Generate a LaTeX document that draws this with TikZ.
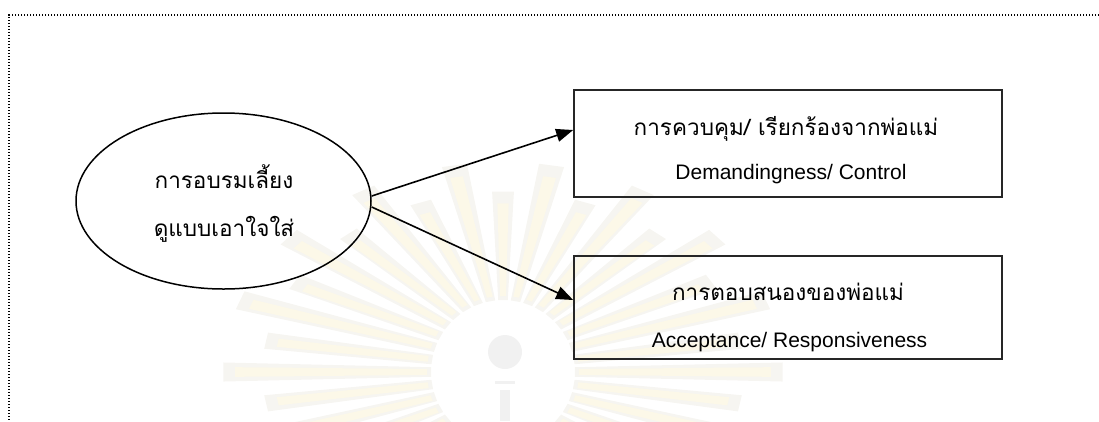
\documentclass[tikz,border=0pt]{standalone}
\usepackage{fontspec}
\setmainfont{Liberation Sans}
\newfontfamily\thaifont[Script=Thai]{Loma}
\usetikzlibrary{arrows.meta,shapes.geometric}

\definecolor{rayyellow}{RGB}{252,248,232}
\definecolor{rayshade}{RGB}{246,245,241}
\definecolor{emblemgrey}{RGB}{241,241,241}

\tikzset{
  frameline/.style={line width=1.2pt, dash pattern=on 1.2pt off 1.8pt},
  bubble/.style={ellipse, draw, line width=1.5pt, minimum width=295pt, minimum height=176pt, inner sep=0pt},
  factorbox/.style={rectangle, draw=black!85, line width=1.7pt, minimum width=428pt, minimum height=#1, inner sep=0pt},
  thaitext/.style={font=\thaifont\fontsize{22.5pt}{27pt}\selectfont, anchor=base, inner sep=0pt},
  engtext/.style={font=\fontsize{21pt}{25pt}\selectfont, anchor=base, inner sep=0pt},
  link/.style={line width=1.6pt, -{Triangle[length=17pt,width=13pt]}}
}

\begin{document}
\begin{tikzpicture}[x=1pt,y=-1pt]
\useasboundingbox (0,0) rectangle (1099,421);

% faint sunburst emblem in the background
\begin{scope}
  \clip (0,0) rectangle (1099,421);
  \begin{scope}[shift={(503,372)}]
    \foreach \a [count=\i] in {0,10,...,350} {
      \pgfmathsetmacro\k{mod(\i,2)==0 ? 0.86 : 1}
      \pgfmathsetmacro\rx{280*\k}
      \pgfmathsetmacro\ry{210*\k}
      \fill[rayshade] (\a-3.8:72) -- ({\rx*cos(\a-2.6)},{\ry*sin(\a-2.6)})
        -- ({\rx*cos(\a+2.6)},{\ry*sin(\a+2.6)}) -- (\a+3.8:72) -- cycle;
      \fill[rayyellow] (\a-2.2:76) -- ({(\rx-12)*cos(\a-1.4)},{(\ry-12)*sin(\a-1.4)})
        -- ({(\rx-12)*cos(\a+1.4)},{(\ry-12)*sin(\a+1.4)}) -- (\a+2.2:76) -- cycle;
    }
  \end{scope}
  \fill[emblemgrey] (505,352) circle (17);
  \fill[emblemgrey] (495,381) rectangle (515,384);
  \fill[emblemgrey] (500,390) rectangle (510,421);
\end{scope}

% dotted frame (top and left edges)
\coordinate (frameTL) at (9,15);
\coordinate (frameTR) at (1099,15);
\coordinate (frameBL) at (9,421);
\draw[frameline] (frameTR) -- (frameTL) -- (frameBL);

% source concept
\node[bubble] (parent) at (223.5,201) {};
\node[thaitext] (p1) at (224,188) {การอบรมเลี้ยง};
\node[thaitext] (p2) at (224,236) {ดูแบบเอาใจใส่};

% outcome boxes
\node[factorbox=107pt] (ctrl) at (788,143.5) {};
\node[thaitext] (c1) at (786,135) {การควบคุม/ เรียกร้องจากพ่อแม่};
\node[engtext] (c2) at (791,179) {Demandingness/ Control};

\node[factorbox=103pt] (resp) at (788,307.5) {};
\node[thaitext] (r1) at (788,300) {การตอบสนองของพ่อแม่};
\node[engtext] (r2) at (789.5,347) {Acceptance/ Responsiveness};

% links
\draw[link] ([yshift=5pt]parent.east) -- ([yshift=13.5pt]ctrl.west);
\draw[link] ([yshift=-6pt]parent.east) -- ([yshift=7.5pt]resp.west);
\end{tikzpicture}
\end{document}
